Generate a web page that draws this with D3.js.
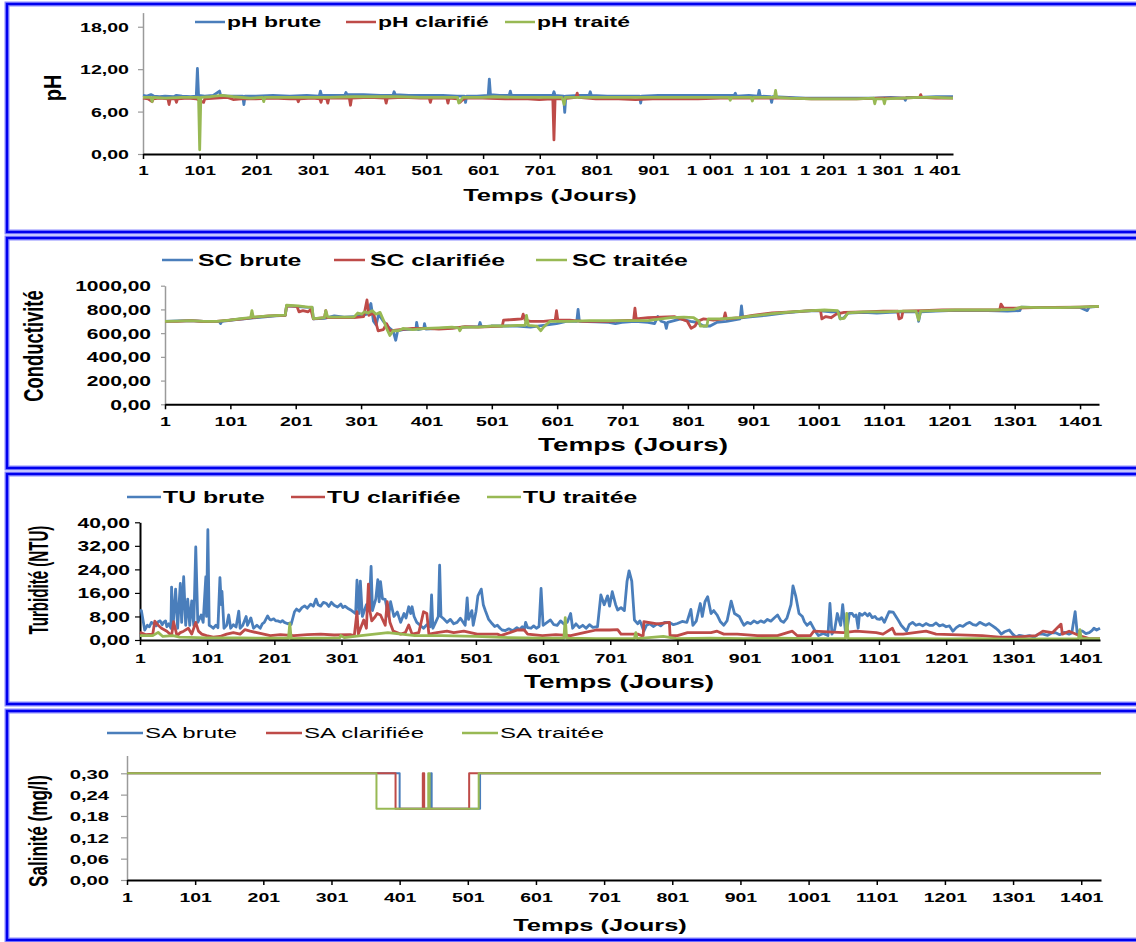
<!DOCTYPE html>
<html>
<head>
<meta charset="utf-8">
<script src="https://cdn.jsdelivr.net/npm/d3@7"></script>
<style>
  body { margin: 0; background: #fff; }
  svg { display: block; }
</style>
</head>
<body>
<svg id="chart" width="1136" height="942"></svg>
<script>
// ---------- Data (day, value) ----------
const dayTicks = [1, 101, 201, 301, 401, 501, 601, 701, 801, 901, 1001, 1101, 1201, 1301, 1401];
const lastDay = 1430;

const phTicks = [0, 6, 12, 18];
const scTicks = [0, 200, 400, 600, 800, 1000];
const tuTicks = [0, 8, 16, 24, 32, 40];
const saTicks = [0, 0.06, 0.12, 0.18, 0.24, 0.30];

const phNames = ["pH brute", "pH clarifié", "pH traité"];
const scNames = ["SC brute", "SC clarifiée", "SC traitée"];
const tuNames = ["TU brute", "TU clarifiée", "TU traitée"];
const saNames = ["SA brute", "SA clarifiée", "SA traitée"];

const phBrute = [[1,8.3],[8,8.2],[15,8.4],[20,8.2],[30,8.1],[40,8.2],[55,8.1],[60,8.3],[70,8.2],[85,8.1],[95,8.2],[97,12.1],[99,8.3],[110,8.2],[125,8.3],[136,8.9],[138,8.3],[150,8.2],[165,8.2],[177,8.2],[179,7.0],[181,8.2],[200,8.2],[230,8.3],[260,8.2],[290,8.3],[312,8.2],[314,8.9],[316,8.3],[340,8.3],[357,8.3],[359,8.7],[361,8.4],[390,8.4],[420,8.3],[442,8.3],[444,8.8],[446,8.4],[470,8.3],[500,8.3],[530,8.3],[555,8.2],[568,8.2],[570,7.3],[572,8.2],[590,8.2],[610,8.3],[612,10.6],[614,8.4],[630,8.3],[647,8.3],[649,8.9],[651,8.3],[680,8.3],[700,8.3],[724,8.3],[726,8.8],[728,8.3],[743,8.2],[745,5.9],[747,8.2],[770,8.3],[788,8.3],[790,8.8],[792,8.3],[820,8.2],[850,8.2],[877,8.2],[879,7.2],[881,8.2],[910,8.3],[940,8.3],[970,8.3],[1000,8.3],[1030,8.3],[1044,8.3],[1046,8.6],[1048,8.2],[1070,8.3],[1086,8.2],[1088,9.0],[1090,8.2],[1108,8.1],[1110,7.3],[1112,8.1],[1140,8.0],[1170,7.9],[1200,7.9],[1230,7.9],[1260,7.9],[1290,7.9],[1320,8.0],[1344,7.9],[1346,7.6],[1348,8.0],[1370,8.0],[1400,8.1],[1430,8.1]];
const phClarifie = [[1,7.9],[10,7.8],[17,7.4],[19,7.8],[30,7.9],[45,7.8],[47,7.0],[49,7.8],[58,7.8],[60,7.3],[62,7.8],[80,7.9],[95,7.8],[108,7.3],[110,7.8],[130,7.9],[150,8.0],[160,7.7],[175,7.8],[200,7.8],[230,7.9],[260,7.8],[273,7.8],[275,7.4],[277,7.8],[300,7.9],[313,7.8],[315,7.3],[317,7.9],[325,7.8],[327,7.2],[329,7.9],[345,7.9],[365,7.9],[367,6.9],[369,7.9],[400,8.0],[428,7.9],[430,7.2],[432,7.9],[460,8.0],[490,7.9],[506,7.9],[508,7.3],[510,7.9],[537,7.9],[539,7.2],[541,7.9],[556,7.8],[560,7.3],[564,7.6],[570,7.9],[600,7.9],[640,7.8],[680,7.8],[700,7.7],[722,7.8],[724,7.8],[726,2.0],[728,7.8],[740,7.8],[765,8.0],[767,8.6],[769,8.0],[800,7.8],[840,7.8],[870,7.7],[900,7.8],[940,7.8],[980,7.8],[1020,7.9],[1060,7.9],[1100,7.9],[1140,7.9],[1180,7.8],[1220,7.8],[1260,7.8],[1300,7.9],[1340,7.9],[1371,8.0],[1373,8.4],[1375,8.0],[1400,7.9],[1430,7.9]];
const phTraite = [[1,8.0],[15,8.0],[17,7.4],[19,8.0],[40,7.9],[70,8.0],[99,8.0],[101,0.6],[103,8.0],[120,8.1],[140,8.3],[160,8.1],[190,7.9],[212,8.0],[214,7.4],[216,8.0],[250,8.0],[290,8.0],[330,8.0],[370,8.1],[410,8.1],[450,8.1],[490,8.0],[530,8.0],[556,8.0],[558,7.2],[561,7.5],[565,8.0],[600,8.0],[620,8.1],[660,8.0],[700,8.0],[740,8.0],[742,7.6],[744,7.0],[746,8.0],[780,8.0],[820,8.0],[860,8.0],[900,8.0],[940,8.0],[980,8.0],[1020,8.0],[1035,8.0],[1037,7.6],[1039,8.0],[1074,8.0],[1076,7.5],[1078,8.0],[1100,8.0],[1115,8.0],[1117,9.0],[1119,8.0],[1140,7.9],[1180,7.8],[1220,7.8],[1260,7.8],[1290,7.9],[1292,7.1],[1294,7.8],[1307,7.8],[1309,7.1],[1311,7.8],[1340,7.9],[1370,8.0],[1400,8.0],[1430,7.9]];

const scBrute = [[1,700],[20,703],[40,705],[60,700],[84,700],[86,680],[88,700],[110,715],[130,725],[150,735],[170,745],[185,750],[187,830],[200,825],[215,820],[226,818],[228,720],[245,725],[260,745],[275,735],[290,738],[300,745],[310,760],[316,850],[320,700],[324,670],[328,760],[335,700],[345,640],[350,620],[354,540],[357,620],[365,630],[385,635],[386,690],[388,630],[397,640],[398,680],[400,635],[420,640],[440,645],[460,650],[481,655],[483,690],[485,655],[500,660],[520,660],[540,660],[560,650],[580,665],[600,680],[615,700],[631,700],[633,800],[635,700],[660,695],[680,690],[690,680],[700,690],[720,700],[740,690],[750,680],[755,740],[760,700],[766,690],[768,640],[770,690],[790,720],[805,700],[815,690],[825,660],[835,660],[845,690],[860,700],[881,720],[883,830],[885,730],[900,740],[920,750],[950,770],[980,785],[1000,790],[1020,780],[1032,780],[1034,720],[1040,730],[1046,770],[1070,775],[1090,770],[1110,775],[1130,780],[1152,780],[1154,700],[1157,780],[1180,785],[1200,790],[1230,790],[1260,790],[1290,785],[1309,790],[1311,820],[1340,815],[1370,818],[1400,818],[1412,790],[1415,820],[1430,825]];
const scClarifiee = [[1,700],[20,700],[40,705],[60,698],[80,700],[100,710],[120,720],[140,735],[160,745],[185,750],[187,830],[203,825],[206,780],[212,790],[220,780],[224,800],[228,720],[245,730],[247,790],[249,730],[270,730],[290,730],[305,740],[310,880],[313,750],[320,770],[327,620],[335,630],[340,680],[345,620],[360,630],[380,640],[400,640],[420,635],[440,640],[460,655],[480,650],[500,655],[517,660],[519,710],[535,715],[547,720],[549,760],[552,710],[560,700],[580,700],[598,710],[600,790],[602,710],[620,710],[640,700],[660,700],[680,700],[700,705],[718,710],[720,810],[722,720],[740,730],[760,735],[780,740],[800,700],[806,640],[812,660],[816,700],[825,720],[840,710],[856,720],[858,770],[860,720],[880,730],[900,750],[930,770],[960,780],[990,790],[1004,790],[1006,720],[1012,740],[1020,730],[1028,760],[1040,775],[1070,780],[1100,785],[1122,785],[1124,720],[1128,730],[1130,785],[1160,790],[1190,795],[1220,795],[1250,795],[1278,795],[1280,845],[1284,810],[1300,810],[1330,815],[1360,818],[1400,820],[1430,825]];
const scTraitee = [[1,700],[20,702],[40,705],[60,700],[80,700],[100,710],[120,725],[132,730],[134,790],[136,735],[160,745],[185,752],[187,835],[205,830],[220,820],[226,820],[228,722],[245,730],[247,790],[250,735],[270,735],[290,735],[296,770],[302,760],[306,780],[312,770],[318,790],[324,760],[330,775],[336,700],[340,640],[345,580],[350,620],[358,620],[365,640],[380,630],[400,640],[420,645],[440,650],[450,645],[452,620],[455,650],[480,650],[500,660],[520,660],[540,665],[552,665],[554,750],[557,665],[570,660],[576,620],[580,650],[590,700],[600,700],[620,700],[650,705],[680,705],[700,705],[720,705],[740,705],[760,720],[775,730],[795,735],[810,730],[818,700],[820,660],[830,660],[832,720],[850,720],[880,730],[900,745],[930,765],[960,780],[990,790],[1010,795],[1030,790],[1034,720],[1040,725],[1046,770],[1070,780],[1100,780],[1130,785],[1150,785],[1154,710],[1157,785],[1180,790],[1210,795],[1240,795],[1270,795],[1300,800],[1311,820],[1340,815],[1370,815],[1400,820],[1430,825]];

const tuBrute = [[1,10.2],[3,10],[8,3.4],[12,5],[15,4.5],[18,6],[21,5.6],[25,4.8],[28,6.2],[31,6.5],[34,5.2],[36,6.0],[39,6.5],[41,4.5],[44,5.5],[47,4],[48,18],[50,4],[54,17.3],[57,4],[61,19.2],[63,6],[66,21.5],[69,5],[72,13.9],[75,5],[78,13.3],[81,5],[84,31.6],[87,6],[92,8.5],[95,6],[99,21.5],[100,8],[102,37.5],[104,5],[107,4.6],[110,4],[114,5],[117,4.2],[120,21.2],[122,12],[123,16.5],[126,4],[130,5],[133,8.5],[136,4],[140,5.2],[144,4.4],[148,9.8],[150,4],[154,5],[159,8],[161,5],[166,7.5],[170,4],[175,5],[180,4],[183,5.5],[186,6],[191,8.2],[194,7],[196,6.8],[200,7.2],[203,6.5],[206,6.5],[210,6.1],[213,6.6],[216,6],[219,5.7],[221,5.5],[224,5.8],[226,5.3],[231,9.6],[234,10.5],[238,9.8],[242,11],[246,11.6],[250,10.8],[255,12.2],[259,11.5],[263,13.9],[266,12],[270,11.5],[274,12.8],[278,12.5],[282,11.4],[286,12.8],[290,11.8],[295,11.2],[300,12.2],[303,11],[306,11.5],[310,10.8],[316,10],[322,9],[324,20.3],[327,9],[329,20],[332,8],[338,12],[342,10],[345,25],[347,10],[352,14],[355,20.5],[357,13],[359,19.8],[362,14],[366,13.8],[371,8],[374,13],[379,8],[384,9.5],[389,6],[394,9],[397,7.5],[401,11.3],[404,9],[406,11.3],[409,8],[413,6],[418,5],[423,4],[428,5.2],[433,4.5],[435,15.3],[437,4],[441,6],[445,8],[447,25.4],[449,8],[453,7.2],[458,6],[463,7],[468,5.5],[473,6],[478,7.4],[485,5],[488,14.3],[490,7],[495,10],[497,5],[501,9.5],[504,15],[509,17.3],[512,12],[515,10],[520,7],[525,5.6],[529,4.6],[533,5],[537,4],[540,3.4],[545,3.2],[550,3.8],[555,3.2],[558,3.5],[562,4.2],[566,3.6],[570,4.5],[573,3.4],[575,6],[578,4.2],[583,4],[587,4.8],[591,4],[595,4.6],[598,17.5],[601,5],[606,5.8],[612,6.8],[617,5.2],[622,5],[627,6.5],[632,5.4],[637,6],[642,9],[645,4],[650,5.5],[655,4.2],[660,5],[665,4],[670,5.2],[675,4.3],[682,4.5],[687,15.3],[692,12],[697,15],[700,11.5],[704,16.4],[709,12],[712,10.2],[717,11],[722,10],[726,20],[729,23.5],[733,20],[737,6.8],[742,5.5],[745,6.5],[747,5.5],[751,3],[755,5],[760,5.5],[765,4.6],[771,5.5],[776,4.8],[782,6],[789,6],[795,5.2],[801,5.6],[808,6.3],[815,6],[821,10.4],[824,5],[829,6.4],[835,12.4],[838,8],[842,13],[846,14.7],[851,9],[855,10],[860,8.5],[865,6.2],[870,5],[875,6.6],[881,13.2],[886,9],[893,8],[897,6.2],[900,5],[905,6],[910,5.5],[915,6.5],[920,5.8],[925,6.5],[930,6],[935,7],[940,6.4],[945,7.5],[950,8.5],[955,6.5],[959,6],[964,7.4],[970,12],[973,18.4],[977,15],[982,9],[987,8],[990,6.2],[994,5],[999,6],[1006,3],[1011,1.5],[1018,2.2],[1025,1.5],[1028,12.4],[1031,2],[1035,3.5],[1039,9],[1044,5],[1047,12],[1051,3],[1054,4.6],[1057,9],[1061,9],[1064,8],[1067,8.5],[1070,4],[1072,9],[1076,8.4],[1080,9.2],[1084,8.2],[1087,9],[1091,7.6],[1095,8],[1098,7.2],[1102,7],[1105,7.6],[1109,6],[1116,9.6],[1122,9.5],[1129,7],[1134,5],[1138,4],[1142,3],[1146,5.2],[1151,6],[1156,5],[1161,5.4],[1166,4.8],[1171,5.6],[1176,5],[1181,5],[1186,5.8],[1191,4.8],[1196,5.2],[1201,4.5],[1206,4.8],[1211,3],[1216,4.2],[1221,5],[1226,4.6],[1231,5.5],[1236,6],[1241,5.2],[1246,5],[1251,6],[1256,5.4],[1260,5],[1265,5.6],[1270,4.8],[1275,4],[1279,3.2],[1283,2],[1288,2.8],[1295,3.4],[1300,2],[1305,1],[1310,1.6],[1318,1.2],[1325,1.5],[1332,1],[1338,2],[1345,2],[1352,1.6],[1358,2.4],[1364,2.5],[1370,1.8],[1377,2.6],[1384,2],[1388,2.4],[1393,9.6],[1396,2.5],[1400,3.2],[1404,3],[1409,2.2],[1414,2.5],[1418,3.2],[1421,4],[1425,3.4],[1430,4]];
const tuClarifiee = [[1,2.6],[10,1.8],[20,2],[23,6.4],[28,5],[33,4],[41,3],[48,1.5],[51,6.2],[56,1.5],[61,2.5],[66,3],[73,4],[78,2],[84,6],[88,3],[93,2],[100,1.5],[110,1],[120,1.2],[130,2],[140,2.5],[150,2],[157,3.5],[165,3],[175,2.5],[185,2],[195,1.5],[210,1.8],[230,1.5],[250,1.8],[270,2],[290,1.7],[314,1.8],[320,1.5],[324,9.6],[326,2],[334,6.8],[338,4],[341,19],[343,10],[346,6.5],[351,7.9],[354,9],[359,8.5],[366,5],[369,13],[373,6],[378,3],[389,2],[396,2.5],[401,5.1],[406,2],[416,2.5],[421,7.5],[423,9.6],[428,9],[431,2],[443,2.5],[458,3],[468,2.5],[483,3],[503,2],[533,2],[538,1.5],[563,3.4],[573,3.4],[578,2],[600,1.5],[620,1.8],[642,1.5],[662,2.5],[680,3.4],[700,3.4],[712,3.5],[717,2],[742,2],[747,1.5],[750,1.5],[751,6.2],[771,5.5],[789,6],[790,1.5],[801,1.5],[816,2.5],[851,2.5],[860,3],[870,2],[890,2],[920,1.5],[950,1.5],[972,3],[979,1.5],[999,1.5],[1004,3],[1048,2.5],[1067,3],[1097,2.5],[1107,2],[1121,4],[1125,2],[1137,2],[1171,3],[1186,2],[1255,1.5],[1280,1],[1305,1],[1335,1.5],[1345,3],[1359,2.5],[1372,5.4],[1374,2],[1384,3],[1399,1.5],[1414,0.5],[1430,0.5]];
const tuTraitee = [[1,1.5],[20,1.5],[28,2.6],[35,1.2],[50,1.5],[60,1],[100,0.7],[150,0.7],[200,0.6],[222,0.6],[224,5.6],[226,0.5],[260,0.6],[298,0.7],[300,1.5],[305,0.8],[330,1.5],[350,2],[370,2.5],[390,2],[410,1.5],[450,1.5],[500,1.2],[550,0.8],[600,0.6],[632,0.6],[634,7.6],[636,0.6],[680,0.5],[737,0.5],[739,2.5],[741,0.5],[780,1.2],[800,0.5],[850,0.6],[900,0.5],[950,0.6],[1000,0.5],[1051,0.5],[1053,9],[1055,0.5],[1100,0.5],[1150,0.5],[1200,0.4],[1250,0.5],[1300,0.3],[1350,0.4],[1398,0.5],[1400,3.5],[1402,0.5],[1430,0.5]];

// salinity changes are steps: each value holds until the next listed day
const saBrute = [[1,0.30],[401,0.20],[447,0.30],[448,0.20],[519,0.30],[1430,0.30]];
const saClarifiee = [[1,0.30],[395,0.20],[435,0.30],[437,0.20],[503,0.30],[1430,0.30]];
const saTraitee = [[1,0.30],[367,0.20],[443,0.30],[445,0.20],[517,0.30],[1430,0.30]];

// ---------- Drawing ----------
const colors = ["#4a7ebb", "#be4b48", "#98b954"];
const FONT = '"Liberation Sans", Arial, Helvetica, sans-serif';
const frLocale = d3.formatLocale({ decimal: ",", thousands: " ", grouping: [3], currency: ["", " €"] });
const fmt2 = frLocale.format(".2f");
const fmtGrouped = frLocale.format(",d");

const svg = d3.select("#chart");

function styleText(sel, size, weight) {
  sel.style("font-family", FONT)
     .style("font-size", size + "px")
     .style("font-weight", weight)
     .attr("fill", "#000");
}

function drawPanel(p) {
  const g = svg.append("g");

  // panel frame
  g.append("rect")
    .attr("x", 7).attr("y", p.frame[0])
    .attr("width", 1150).attr("height", p.frame[1] - p.frame[0])
    .attr("fill", "none").attr("stroke", "#8a8aff").attr("stroke-width", 5);
  g.append("rect")
    .attr("x", 7).attr("y", p.frame[0])
    .attr("width", 1150).attr("height", p.frame[1] - p.frame[0])
    .attr("fill", "none").attr("stroke", "#0000ee").attr("stroke-width", 2.4);

  const x = d3.scaleLinear().domain([1, lastDay]).range(p.xRange);
  const y = d3.scaleLinear().domain(p.yDomain).range(p.yRange);

  // y axis
  const ya = g.append("g")
    .attr("transform", `translate(${p.xRange[0]},0)`)
    .call(d3.axisLeft(y).tickValues(p.yTicks).tickSize(p.yTickLen).tickSizeOuter(0).tickFormat(fmt2));
  ya.select(".domain").attr("stroke", p.yAxisColor).attr("stroke-width", p.yAxisWidth);
  ya.selectAll(".tick line").attr("stroke", p.yAxisColor).attr("stroke-width", 1.2);
  ya.selectAll(".tick text")
    .attr("x", null).attr("dy", "0.35em")
    .attr("transform", `translate(${-p.yLabelGap},0) scale(${p.tickSx},1)`)
    .call(styleText, p.yTickSize, "bold");

  // series lines
  const line = d3.line()
    .x(d => x(d[0])).y(d => y(d[1]))
    .curve(p.step ? d3.curveStepAfter : d3.curveLinear);
  p.series.forEach((s, i) => {
    g.append("path")
      .datum(s)
      .attr("d", line)
      .attr("fill", "none")
      .attr("stroke", colors[i])
      .attr("stroke-width", p.lineWidth)
      .attr("stroke-linejoin", "round");
  });

  // x axis
  const xa = g.append("g")
    .attr("transform", `translate(0,${y(p.yDomain[0])})`)
    .call(d3.axisBottom(x).tickValues(dayTicks).tickSize(5).tickSizeOuter(0).tickFormat(p.xFmt));
  xa.select(".domain").attr("stroke", "#000").attr("stroke-width", 2);
  xa.selectAll(".tick line").attr("stroke", "#000").attr("stroke-width", 1.5);
  xa.selectAll(".tick text")
    .attr("y", null).attr("dy", "0.35em")
    .attr("transform", `translate(0,${p.xLabelDy}) scale(${p.tickSx},1)`)
    .call(styleText, p.xTickSize, "bold");

  // x title
  g.append("text")
    .attr("transform", `translate(${p.xTitle[0]},${p.xTitle[1]}) scale(${p.titleSx},1)`)
    .attr("text-anchor", "middle").attr("dy", "0.35em")
    .call(styleText, p.xTitleSize, "bold")
    .text("Temps (Jours)");

  // y title (condensed along its length, widened across it)
  g.append("text")
    .attr("transform", `translate(${p.yTitle[0]},${p.yTitle[1]}) scale(${p.yTitleScale[0]},${p.yTitleScale[1]}) rotate(-90)`)
    .attr("text-anchor", "middle").attr("dy", "0.35em")
    .call(styleText, p.yTitleSize, "bold")
    .text(p.yTitleText);

  // legend
  p.names.forEach((name, i) => {
    const lx = p.legendX[i];
    g.append("line")
      .attr("x1", lx).attr("x2", lx + p.legendLine)
      .attr("y1", p.legendY).attr("y2", p.legendY)
      .attr("stroke", colors[i]).attr("stroke-width", 2.5);
    g.append("text")
      .attr("transform", `translate(${lx + p.legendLine + p.legendGap},${p.legendY}) scale(${p.legendSx},1)`)
      .attr("dy", "0.35em")
      .call(styleText, p.legendSize, p.legendWeight)
      .text(name);
  });
}

// pH
drawPanel({
  frame: [4, 232],
  xRange: [143, 953], yDomain: [0, 20], yRange: [154, 12.6],
  yTicks: phTicks, yTickLen: 5, yAxisColor: "#9a9a9a", yAxisWidth: 1.5, yLabelGap: 14,
  yTickSize: 13.5, xTickSize: 13, tickSx: 1.45, xLabelDy: 16,
  xFmt: d => fmtGrouped(d),
  series: [phBrute, phClarifie, phTraite], lineWidth: 2.8,
  xTitle: [550, 195], xTitleSize: 17, titleSx: 1.5,
  yTitle: [53, 88], yTitleText: "pH", yTitleSize: 20, yTitleScale: [1.2, 1],
  names: phNames, legendX: [195, 346, 505], legendY: 22, legendLine: 30, legendGap: 2,
  legendSize: 15.5, legendWeight: "bold", legendSx: 1.48
});

// Conductivité
drawPanel({
  frame: [238, 468],
  xRange: [165, 1099], yDomain: [0, 1000], yRange: [404.3, 285.7],
  yTicks: scTicks, yTickLen: 4, yAxisColor: "#9a9a9a", yAxisWidth: 1.5, yLabelGap: 14,
  yTickSize: 14, xTickSize: 13, tickSx: 1.5, xLabelDy: 17,
  xFmt: d => String(d),
  series: [scBrute, scClarifiee, scTraitee], lineWidth: 2.8,
  xTitle: [633, 445], xTitleSize: 18, titleSx: 1.55,
  yTitle: [33, 346], yTitleText: "Conductivité", yTitleSize: 20, yTitleScale: [1.4, 0.92],
  names: scNames, legendX: [162, 334, 536], legendY: 260, legendLine: 31, legendGap: 5,
  legendSize: 16, legendWeight: "bold", legendSx: 1.55
});

// Turbidité
drawPanel({
  frame: [474, 704],
  xRange: [140, 1100], yDomain: [0, 40], yRange: [640, 522.3],
  yTicks: tuTicks, yTickLen: 5, yAxisColor: "#000", yAxisWidth: 2, yLabelGap: 10,
  yTickSize: 14, xTickSize: 13, tickSx: 1.5, xLabelDy: 18,
  xFmt: d => String(d),
  series: [tuBrute, tuClarifiee, tuTraitee], lineWidth: 2.8,
  xTitle: [619, 682], xTitleSize: 18, titleSx: 1.55,
  yTitle: [38, 580], yTitleText: "Turbidité (NTU)", yTitleSize: 18, yTitleScale: [1.55, 0.84],
  names: tuNames, legendX: [127, 291, 487], legendY: 497, legendLine: 34, legendGap: 2,
  legendSize: 16, legendWeight: "bold", legendSx: 1.55
});

// Salinité
drawPanel({
  frame: [711, 940],
  xRange: [127, 1101], yDomain: [0, 0.35], yRange: [880, 755.5],
  yTicks: saTicks, yTickLen: 6, yAxisColor: "#9a9a9a", yAxisWidth: 1.5, yLabelGap: 18,
  yTickSize: 13.5, xTickSize: 13, tickSx: 1.5, xLabelDy: 17,
  xFmt: d => String(d),
  series: [saBrute, saClarifiee, saTraitee], lineWidth: 2, step: true,
  xTitle: [600, 925], xTitleSize: 17, titleSx: 1.5,
  yTitle: [38, 831], yTitleText: "Salinité (mg/l)", yTitleSize: 18, yTitleScale: [1.45, 0.95],
  names: saNames, legendX: [107, 266, 462], legendY: 733, legendLine: 36, legendGap: 2,
  legendSize: 15, legendWeight: "normal", legendSx: 1.6
});
</script>
</body>
</html>
